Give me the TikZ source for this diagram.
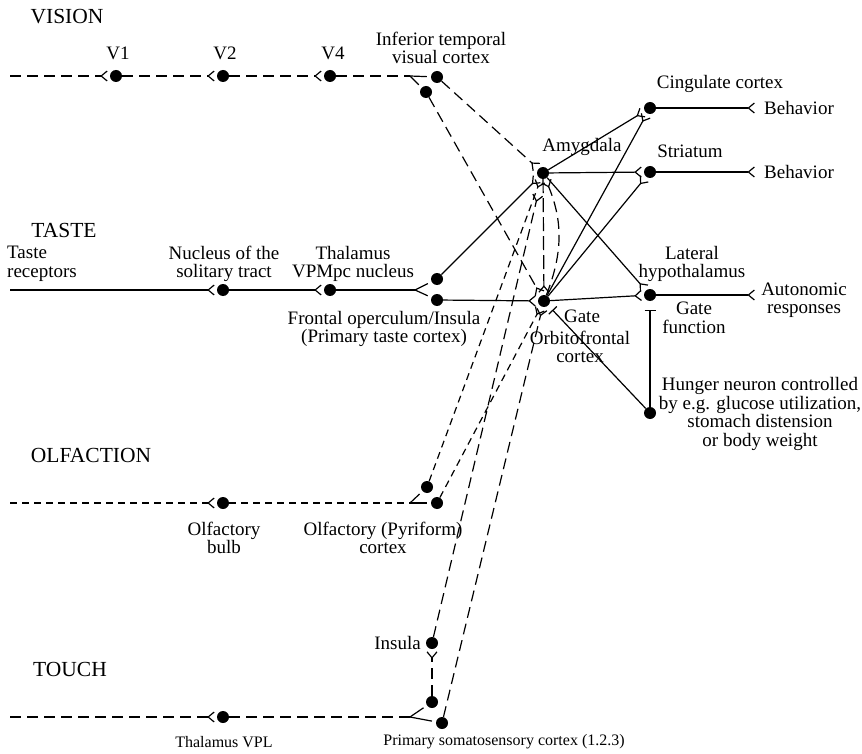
\documentclass[tikz,border=0pt]{standalone}
\usepackage{fontspec}
\setmainfont{Liberation Serif}
\usetikzlibrary{arrows.meta,calc}
\begin{document}
\begin{tikzpicture}[x=1pt,y=-1pt,
  dot/.style={circle,fill=black,inner sep=0pt,minimum size=12pt},
  lbl/.style={inner sep=0pt,font=\fontsize{19pt}{18.5pt}\selectfont,align=center},
  head/.style={inner sep=0pt,font=\fontsize{21.5pt}{22pt}\selectfont},
  small/.style={inner sep=0pt,font=\fontsize{16pt}{17pt}\selectfont},
  ln/.style={line width=1.2pt},
  syn/.style={ln,-{Straight Barb[reversed,length=6pt,width=10pt,line width=1.2pt]},shorten >=2pt},
  gatebar/.style={ln,-{Bar[width=11pt,line width=1.2pt]}},
  dshv/.style={dash pattern=on 11pt off 6pt},
  dshs/.style={dash pattern=on 7pt off 5pt},
  dshl/.style={dash pattern=on 14pt off 5pt},
  arm/.style={ln,shorten >=4pt}]
\useasboundingbox (0,0) rectangle (862,754);
% dots
\node[dot] (v1) at (116,76) {};
\node[dot] (v2) at (223,76) {};
\node[dot] (v4) at (330,76) {};
\node[dot] (itU) at (437,77) {};
\node[dot] (itL) at (426,92) {};
\node[dot] (amy) at (543,173) {};
\node[dot] (ofc) at (544,301) {};
\node[dot] (cing) at (650,108) {};
\node[dot] (str) at (650,172) {};
\node[dot] (lh) at (650,295) {};
\node[dot] (hun) at (650,413) {};
\node[dot] (nts) at (223,290) {};
\node[dot] (vpm) at (330,290) {};
\node[dot] (tU) at (437,279) {};
\node[dot] (tL) at (437,300) {};
\node[dot] (ob) at (223,503) {};
\node[dot] (oU) at (427,487) {};
\node[dot] (oL) at (437,503) {};
\node[dot] (ins) at (432,643) {};
\node[dot] (vpl) at (223,717) {};
\node[dot] (sU) at (432,702) {};
\node[dot] (sL) at (442,723) {};
% free ends
\coordinate (vstart) at (10,76);
\coordinate (vfork) at (410,76);
\coordinate (tstart) at (10,290);
\coordinate (tfork) at (415,290);
\coordinate (ostart) at (10,503);
\coordinate (ofork) at (410,503);
\coordinate (sstart) at (10,717);
\coordinate (sfork) at (410,717);
\coordinate (beh1) at (757,108);
\coordinate (beh2) at (757,172);
\coordinate (auto) at (757,295);
% vision
\draw[syn,dshv] (vstart) -- (v1);
\draw[syn,dshv] (v1) -- (v2);
\draw[syn,dshv] (v2) -- (v4);
\draw[ln,dshv] (v4) -- (vfork);
\draw[arm] (vfork) -- (itU);
\draw[arm] (vfork) -- (itL);
\draw[syn,dshv] (itU) -- (amy);
\draw[syn,dshv] (itL) -- (ofc);
% taste
\draw[syn] (tstart) -- (nts);
\draw[syn] (nts) -- (vpm);
\draw[ln] (vpm) -- (tfork);
\draw[arm] (tfork) -- (tU);
\draw[arm] (tfork) -- (tL);
\draw[syn] (tU) -- (amy);
\draw[syn] (tL) -- (ofc);
% outputs
\draw[syn] (amy) -- (cing);
\draw[syn] (amy) -- (str);
\draw[syn] (amy) -- (lh);
\draw[syn] (ofc) -- (cing);
\draw[syn] (ofc) -- (str);
\draw[syn] (ofc) -- (lh);
\draw[syn] (cing) -- (beh1);
\draw[syn] (str) -- (beh2);
\draw[syn] (lh) -- (auto);
\draw[gatebar,shorten >=9pt] (hun) -- (lh);
\draw[gatebar,shorten >=6pt] (hun) -- (ofc);
% amygdala <-> OFC
\draw[syn,dshl] (amy) -- (ofc);
\draw[syn,dshv] (ofc) to[bend right=22] (amy);
% olfaction
\draw[syn,dshs] (ostart) -- (ob);
\draw[ln,dshs] (ob) -- (ofork);
\draw[arm] (ofork) -- (oU);
\draw[arm] (ofork) -- (oL);
\draw[syn,dshs] (oU) -- (amy);
\draw[syn,dshs] (oL) -- (ofc);
% touch
\draw[syn,dshv] (sstart) -- (vpl);
\draw[ln,dshv] (vpl) -- (sfork);
\draw[arm] (sfork) -- (sU);
\draw[arm] (sfork) -- (sL);
\draw[syn,dshv] (sU) -- (ins);
\draw[syn,dshv,shorten >=16pt] (ins) -- (amy);
\draw[syn,dshv] (sL) -- (ofc);
% labels
\node[head] (lvis) at (67,17) {VISION};
\node[lbl] (lv1) at (118,53) {V1};
\node[lbl] (lv2) at (225,53) {V2};
\node[lbl] (lv4) at (333,53) {V4};
\node[lbl] (lit) at (441,48) {Inferior temporal\\visual cortex};
\node[lbl] (lamy) at (582,147) {Amygdala};
\node[lbl] (lcing) at (720,84) {Cingulate cortex};
\node[lbl] (lbeh1) at (799,108) {Behavior};
\node[lbl] (lstr) at (690,151) {Striatum};
\node[lbl] (lbeh2) at (799,172) {Behavior};
\node[lbl] (llh) at (692,264) {Lateral\\hypothalamus};
\node[lbl] (lauto) at (804,300) {Autonomic\\responses};
\node[lbl] (lgf) at (694,318) {Gate\\function};
\node[lbl] (lhun) at (760,414) {Hunger neuron controlled\\by e.g. glucose utilization,\\stomach distension\\or body weight};
\node[head] (ltaste) at (64,230) {TASTE};
\node[lbl,anchor=west,align=left] (ltr) at (7,264) {Taste\\receptors};
\node[lbl] (lnts) at (224,264) {Nucleus of the\\solitary tract};
\node[lbl] (lvpm) at (353,264) {Thalamus\\VPMpc nucleus};
\node[lbl] (lfo) at (384,329) {Frontal operculum/Insula\\(Primary taste cortex)};
\node[lbl] (lgate) at (582,316) {Gate};
\node[lbl] (lofc) at (580,347) {Orbitofrontal\\cortex};
\node[head] (lolf) at (91,455) {OLFACTION};
\node[lbl] (lob) at (224,538) {Olfactory\\bulb};
\node[lbl] (lpyr) at (383,538) {Olfactory (Pyriform)\\cortex};
\node[head] (ltouch) at (70,669) {TOUCH};
\node[lbl,anchor=east] (lins) at (421,643) {Insula};
\node[small] (lvpl) at (224,742) {Thalamus VPL};
\node[small] (lsom) at (504,742) {Primary somatosensory cortex (1.2.3)};
\end{tikzpicture}
\end{document}
